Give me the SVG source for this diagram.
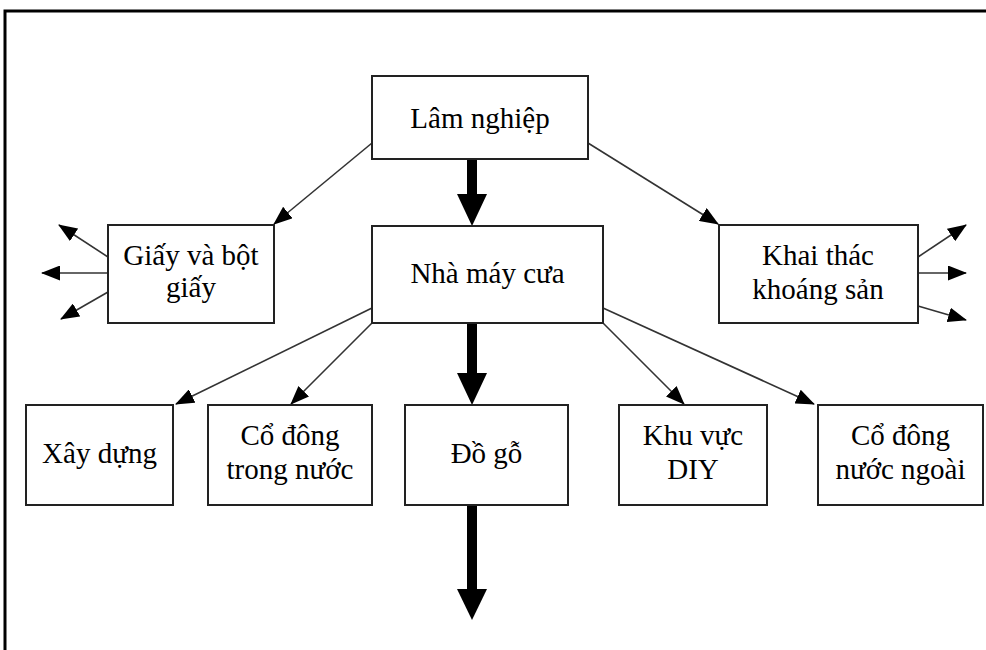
<svg xmlns="http://www.w3.org/2000/svg" width="986" height="650" viewBox="0 0 986 650">
<defs>
<style>
.box{fill:#fff;stroke:#222;stroke-width:2}
.t{font-family:"Liberation Serif","Times New Roman",serif;font-size:29px;fill:#000;text-anchor:middle}
.thin{stroke:#333;stroke-width:1.6;fill:none;marker-end:url(#ah)}
.thick{stroke:#000;stroke-width:10;fill:none}
.head{fill:#000}
</style>
<marker id="ah" markerUnits="userSpaceOnUse" markerWidth="19" markerHeight="15" viewBox="0 0 19 15" refX="18" refY="7.5" orient="auto">
<path d="M0,0 L19,7.5 L0,15 Z" fill="#000"/>
</marker>
</defs>
<rect width="986" height="650" fill="#fff"/>
<path d="M5,650 V11 H986" fill="none" stroke="#000" stroke-width="3"/>
<g id="connectors">
<line class="thin" x1="372" y1="143" x2="274" y2="224"/>
<line class="thin" x1="588" y1="143" x2="718" y2="224"/>
<line class="thin" x1="372" y1="308" x2="176" y2="404"/>
<line class="thin" x1="372" y1="323" x2="291" y2="404"/>
<line class="thin" x1="603" y1="323" x2="684" y2="404"/>
<line class="thin" x1="603" y1="308" x2="814" y2="404"/>
<line class="thin" x1="108" y1="257" x2="59" y2="225"/>
<line class="thin" x1="108" y1="273" x2="42" y2="273"/>
<line class="thin" x1="108" y1="292" x2="61" y2="319"/>
<line class="thin" x1="918" y1="257" x2="966" y2="225"/>
<line class="thin" x1="918" y1="273" x2="966" y2="273"/>
<line class="thin" x1="918" y1="306" x2="966" y2="320"/>
<line class="thick" x1="472" y1="159" x2="472" y2="196"/>
<polygon class="head" points="457,194 487,194 472,226"/>
<line class="thick" x1="472" y1="323" x2="472" y2="375"/>
<polygon class="head" points="457,373 487,373 472,405"/>
<line class="thick" x1="472" y1="505" x2="472" y2="591"/>
<polygon class="head" points="457,589 487,589 472,620"/>
</g>
<g id="lam-nghiep"><rect class="box" x="372" y="76" width="216" height="83"/><text class="t" x="480" y="128">Lâm nghiệp</text></g>
<g id="nha-may-cua"><rect class="box" x="372" y="226" width="231" height="97"/><text class="t" x="487.5" y="283">Nhà máy cưa</text></g>
<g id="giay"><rect class="box" x="108" y="225" width="166" height="98"/><text class="t" x="191" y="265">Giấy và bột</text><text class="t" x="191" y="297">giấy</text></g>
<g id="khai-thac"><rect class="box" x="719" y="225" width="199" height="98"/><text class="t" x="818" y="265">Khai thác</text><text class="t" x="818" y="299">khoáng sản</text></g>
<g id="xay-dung"><rect class="box" x="26" y="405" width="147" height="100"/><text class="t" x="99.5" y="463">Xây dựng</text></g>
<g id="co-dong-trong-nuoc"><rect class="box" x="208" y="405" width="164" height="100"/><text class="t" x="290" y="445">Cổ đông</text><text class="t" x="290" y="479">trong nước</text></g>
<g id="do-go"><rect class="box" x="405" y="405" width="163" height="100"/><text class="t" x="486.5" y="463">Đồ gỗ</text></g>
<g id="khu-vuc-diy"><rect class="box" x="619" y="405" width="148" height="100"/><text class="t" x="693" y="445">Khu vực</text><text class="t" x="693" y="479">DIY</text></g>
<g id="co-dong-nuoc-ngoai"><rect class="box" x="818" y="405" width="165" height="100"/><text class="t" x="900.5" y="445">Cổ đông</text><text class="t" x="900.5" y="479">nước ngoài</text></g>
</svg>
